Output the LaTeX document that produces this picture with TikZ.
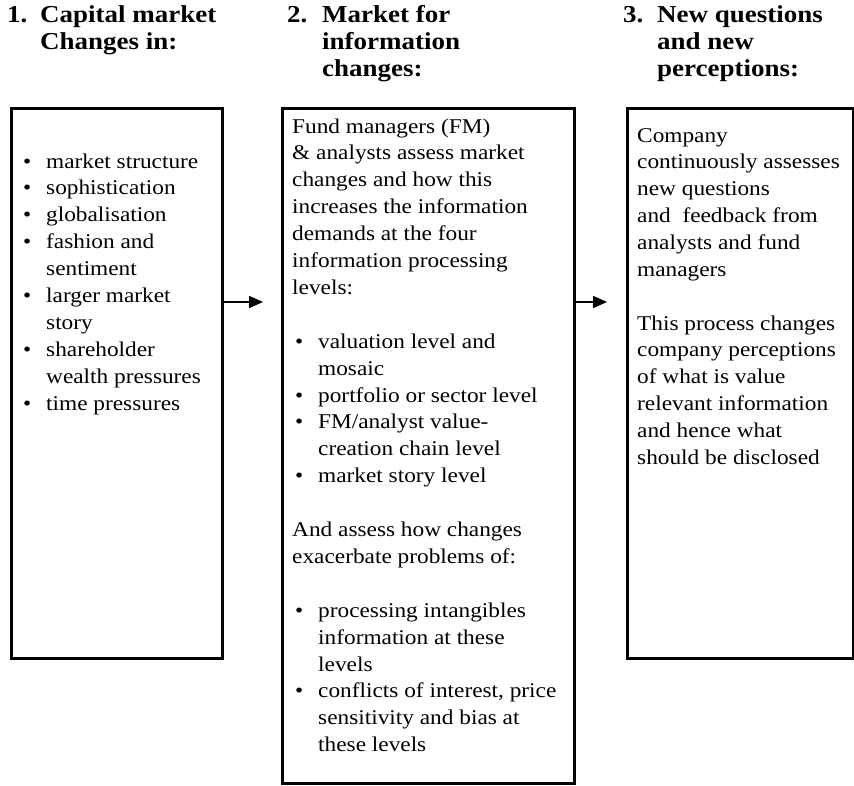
\documentclass[tikz,border=0pt]{standalone}
\usepackage{fontspec}
\setmainfont{Liberation Serif}[FakeStretch=1.11]
\usetikzlibrary{arrows.meta}
\newcommand\bul[1]{\makebox[23pt][l]{\textbullet}#1}
\newcommand\ind[1]{\hspace*{23pt}#1}
\newcommand\txtlines[5][txt]{\foreach \t [count=\i from 0] in {#5} {\node[#1] (#2-\i) at (#3,{-(#4+\lsk*\i)}) {\t};}}
\begin{document}
\begin{tikzpicture}[x=1pt,y=1pt,
  txt/.style={anchor=base west, inner sep=0pt, font=\fontsize{21}{26.9}\selectfont},
  head/.style={anchor=base west, inner sep=0pt, font=\bfseries\fontsize{24.3}{27}\selectfont},
  box/.style={draw, line width=2.6pt, anchor=north west, inner sep=0pt},
  arr/.style={line width=1.8pt, -{Triangle[length=14pt,width=12pt]}}]
\useasboundingbox (0,0) rectangle (854,-785);
% boxes
\node[box, minimum width=211pt, minimum height=550pt] (b1) at (10,-107) {};
\node[box, minimum width=292pt, minimum height=675pt] (b2) at (281,-107) {};
\node[box, minimum width=226pt, minimum height=550pt] (b3) at (626,-107) {};
% headings
\def\lsk{27}
\node[head] (h1n) at (7,-22.5) {1.};
\txtlines[head]{h1}{40}{22.5}{Capital market,Changes in:}
\node[head] (h2n) at (287,-22.5) {2.};
\txtlines[head]{h2}{322}{22.5}{Market for,information,changes:}
\node[head] (h3n) at (623,-22.5) {3.};
\txtlines[head]{h3}{657}{22.5}{New questions,and new,perceptions:}
\def\lsk{26.9}
% box 1
\txtlines{a}{23}{168}{\bul{market structure},\bul{sophistication},\bul{globalisation},\bul{fashion and},\ind{sentiment},\bul{larger market},\ind{story},\bul{shareholder},\ind{wealth pressures},\bul{time pressures}}
% box 2
\txtlines{p}{292}{133}{Fund managers (FM),\& analysts assess market,changes and how this,increases the information,demands at the four,information processing,levels:}
\txtlines{q}{295}{348.2}{\bul{valuation level and},\ind{mosaic},\bul{portfolio or sector level},\bul{FM/analyst value-},\ind{creation chain level},\bul{market story level}}
\txtlines{r}{292}{536.5}{And assess how changes,exacerbate problems of:}
\txtlines{s}{295}{617.2}{\bul{processing intangibles},\ind{information at these},\ind{levels},{\bul{conflicts of interest, price}},\ind{sensitivity and bias at},\ind{these levels}}
% box 3
\txtlines{c}{637}{142}{Company,continuously assesses,new questions,and\ \ feedback from,analysts and fund,managers}
\txtlines{d}{637}{330}{This process changes,company perceptions,of what is value,relevant information,and hence what,should be disclosed}
% arrows
\coordinate (t1) at (263,-302);
\coordinate (t2) at (607,-302);
\draw[arr] (b1.east |- t1) -- (t1);
\draw[arr] (b2.east |- t2) -- (t2);
\end{tikzpicture}
\end{document}
